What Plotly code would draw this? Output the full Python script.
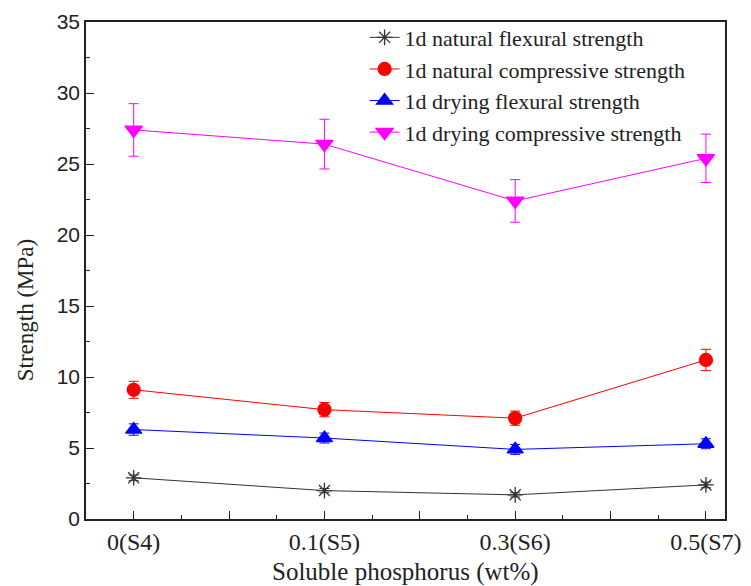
import plotly.graph_objects as go

categories = ["0(S4)", "0.1(S5)", "0.3(S6)", "0.5(S7)"]
x_pos = [0, 1, 2, 3]

nat_flex = [2.9, 2.0, 1.7, 2.4]
nat_flex_err = [0.2, 0.15, 0.15, 0.2]
nat_comp = [9.1, 7.7, 7.1, 11.2]
nat_comp_err = [0.6, 0.5, 0.5, 0.75]
dry_flex = [6.3, 5.7, 4.9, 5.3]
dry_flex_err = [0.4, 0.35, 0.35, 0.35]
dry_comp = [27.4, 26.4, 22.4, 25.4]
dry_comp_err = [1.85, 1.75, 1.5, 1.7]

x_title = "Soluble phosphorus (wt%)"
y_title = "Strength (MPa)"

series = [
    ("1d natural flexural strength", nat_flex, nat_flex_err, "#333333", "asterisk-open", 13),
    ("1d natural compressive strength", nat_comp, nat_comp_err, "#ff0000", "circle", 13),
    ("1d drying flexural strength", dry_flex, dry_flex_err, "#0000ff", "triangle-up", 14),
    ("1d drying compressive strength", dry_comp, dry_comp_err, "#ff00ff", "triangle-down", 15),
]

fig = go.Figure()
for name, y, err, col, sym, sz in series:
    fig.add_trace(go.Scatter(
        x=x_pos, y=y, name=name, mode="lines+markers",
        line=dict(color=col, width=1),
        marker=dict(symbol=sym, size=sz, color=col, line=dict(color=col, width=1.3)),
        error_y=dict(type="data", array=err, visible=True, color=col, thickness=1, width=5),
    ))

tickvals = [0, 0.5, 1, 1.5, 2, 2.5, 3]
ticktext = [categories[0], "", categories[1], "", categories[2], "", categories[3]]

fig.update_layout(
    width=743, height=578,
    margin=dict(l=78, r=26, t=14, b=67, autoexpand=False),
    paper_bgcolor="white", plot_bgcolor="white",
    showlegend=True,
    legend=dict(x=0.436, y=1.011, xanchor="left", yanchor="top",
                font=dict(family="Liberation Serif", size=22, color="#222"),
                bgcolor="rgba(0,0,0,0)", tracegroupgap=0),
    xaxis=dict(
        range=[-0.25, 3.1], tickmode="array", tickvals=tickvals, ticktext=ticktext,
        ticks="inside", ticklen=8, tickwidth=1.2, tickcolor="#222",
        showline=True, linecolor="#222", linewidth=1.5, mirror=True,
        showgrid=False, zeroline=False,
        minor=dict(tickmode="linear", tick0=0, dtick=0.25, ticks="inside", ticklen=4, tickcolor="#222"),
        tickfont=dict(family="Liberation Serif", size=24, color="#222"),
    ),
    yaxis=dict(
        range=[0, 35], tickmode="linear", tick0=0, dtick=5,
        ticks="inside", ticklen=8, tickwidth=1.2, tickcolor="#222",
        showline=True, linecolor="#222", linewidth=1.5, mirror=True,
        showgrid=False, zeroline=False,
        minor=dict(tickmode="linear", tick0=0, dtick=2.5, ticks="inside", ticklen=4, tickcolor="#222"),
        tickfont=dict(family="Liberation Sans", size=21, color="#222"),
    ),
    annotations=[
        dict(text=x_title, xref="paper", yref="paper", x=0.5, y=0, yshift=-53,
             xanchor="center", yanchor="middle", showarrow=False,
             font=dict(family="Liberation Serif", size=25, color="#222")),
        dict(text=y_title, xref="paper", yref="paper", x=0, y=0.42, xshift=-61,
             xanchor="center", yanchor="middle", textangle=-90, showarrow=False,
             font=dict(family="Liberation Serif", size=23, color="#222")),
    ],
)

fig.write_html("out.html")
